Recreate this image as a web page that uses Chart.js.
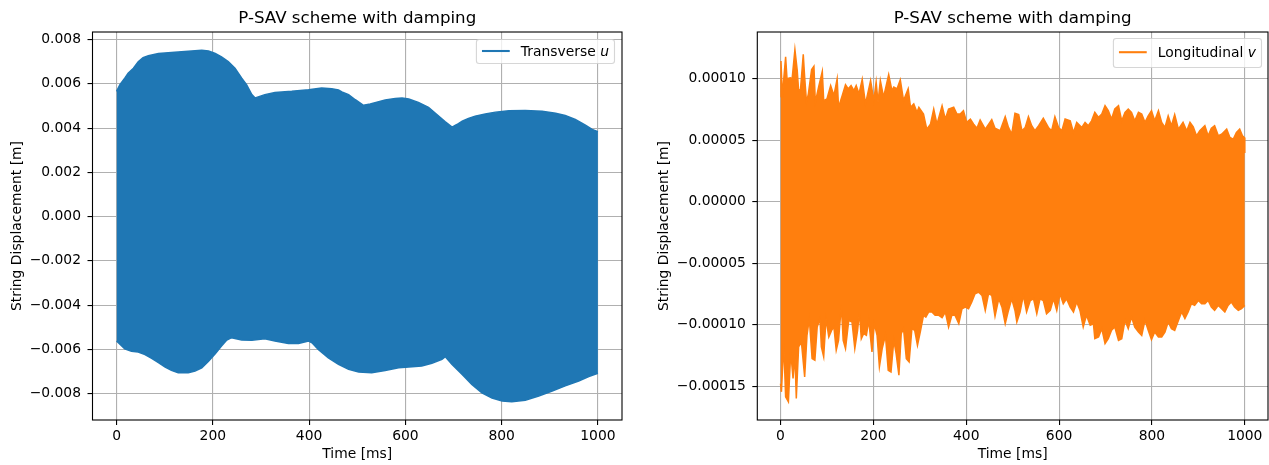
<!DOCTYPE html>
<html><head><meta charset="utf-8">
<script src="https://cdn.jsdelivr.net/npm/chart.js@4.4.0/dist/chart.umd.min.js"></script>
<style>
html,body{margin:0;padding:0;background:#fff;}
#wrap{position:relative;width:1269px;height:465px;overflow:hidden;background:#fff;}
canvas{position:absolute;top:0;}
</style></head><body>
<div id="wrap">
<canvas id="cu" width="640" height="465" style="left:0px"></canvas>
<canvas id="cv" width="629" height="465" style="left:640px"></canvas>
</div>
<script>
// ---- data ----
const timeTicks = [0, 200, 400, 600, 800, 1000];
const uTicks = [-0.008, -0.006, -0.004, -0.002, 0, 0.002, 0.004, 0.006, 0.008];
const vTicks = [-0.00015, -0.0001, -0.00005, 0, 0.00005, 0.0001];

// Transverse u: upper and lower envelope of the oscillation (m) vs time (ms)
const uUpperTime = [0,7,17,24,35,45,55,66,87,121,156,177,191,205,218,232,246,260,270,281,288,308,329,364,399,426,447,461,468,482,496,513,527,537,558,579,593,607,627,648,669,683,697,707,718,731,745,766,787,815,849,884,912,932,953,974,988,1000];
const uUpper = [0.00566,0.00596,0.00625,0.00648,0.0067,0.007,0.00718,0.00727,0.00737,0.00742,0.00748,0.00751,0.00748,0.00737,0.00722,0.007,0.0067,0.00625,0.00596,0.00551,0.00536,0.00551,0.00561,0.00566,0.00573,0.00581,0.00578,0.00572,0.00563,0.00551,0.00528,0.00503,0.00509,0.00515,0.00527,0.00534,0.00536,0.00531,0.00516,0.00494,0.00454,0.00428,0.00404,0.00416,0.00431,0.00443,0.00454,0.00464,0.00472,0.00478,0.00479,0.00476,0.00467,0.00457,0.00439,0.00413,0.00394,0.00384];
const uLowerTime = [0,7,17,31,45,59,73,87,101,114,128,149,163,177,191,205,218,229,239,260,281,308,329,357,378,399,406,419,440,461,482,503,530,558,586,607,634,655,676,683,697,718,738,759,780,801,821,849,877,905,932,960,981,1000];
const uLower = [-0.00562,-0.00577,-0.00597,-0.00608,-0.00612,-0.00623,-0.00641,-0.0066,-0.0068,-0.00695,-0.00705,-0.00705,-0.00698,-0.00683,-0.00653,-0.0062,-0.00585,-0.00558,-0.00547,-0.00558,-0.00559,-0.00552,-0.00562,-0.00573,-0.00573,-0.00562,-0.0057,-0.006,-0.00638,-0.00668,-0.0069,-0.00702,-0.00705,-0.00695,-0.00683,-0.0068,-0.00675,-0.00663,-0.00645,-0.00633,-0.00668,-0.00713,-0.00758,-0.00796,-0.0082,-0.00833,-0.00836,-0.0083,-0.00811,-0.00788,-0.00765,-0.00743,-0.00723,-0.00708];

// Longitudinal v: upper and lower envelope (m) vs time (ms)
const vUpperTime = [0,1,4,7,11,14,21,25,31,36,39,43,49,52,56,60,67,72,75,82,90,93,100,108,115,122,125,133,140,146,152,158,163,169,176,183,194,201,206,210,215,222,233,240,244,251,258,265,275,280,287,294,298,308,315,323,330,337,348,355,362,373,380,387,394,401,409,416,423,430,441,455,462,473,484,491,498,505,513,520,527,534,541,548,556,566,577,584,591,599,606,613,624,631,638,649,656,663,670,677,685,692,699,706,713,720,728,735,742,749,756,763,771,778,785,792,799,806,814,821,828,835,842,849,857,867,875,882,889,896,903,914,921,928,935,943,950,961,968,975,982,989,995,999,1000];
const vUpper = [8.54e-5,11.45e-5,8.5e-5,10e-5,11.78e-5,10e-5,10.08e-5,10e-5,12.38e-5,10.68e-5,9.04e-5,9.1e-5,11.99e-5,10.14e-5,8.09e-5,8.77e-5,10.74e-5,11.01e-5,8.09e-5,9.32e-5,10.6e-5,8.22e-5,8.36e-5,9.45e-5,8.63e-5,10e-5,7.68e-5,8.63e-5,9.51e-5,9.18e-5,9.45e-5,9.04e-5,9.45e-5,8.77e-5,9.95e-5,7.95e-5,9.86e-5,8.22e-5,9.73e-5,8.09e-5,9.86e-5,8.5e-5,10.33e-5,9.04e-5,9.32e-5,9.18e-5,9.92e-5,8.22e-5,9.18e-5,7.68e-5,7.95e-5,7.27e-5,7.68e-5,7.13e-5,5.9e-5,6.31e-5,7.54e-5,6.31e-5,7.81e-5,6.72e-5,7.54e-5,7.68e-5,7.13e-5,7.13e-5,7.4e-5,6.45e-5,6.72e-5,6.31e-5,5.98e-5,6.64e-5,5.9e-5,6.67e-5,5.98e-5,5.77e-5,6.91e-5,6.04e-5,5.49e-5,7.19e-5,7.08e-5,5.77e-5,6.04e-5,6.91e-5,6.18e-5,5.77e-5,6.18e-5,6.78e-5,6.04e-5,5.77e-5,6.91e-5,6.04e-5,5.77e-5,6.72e-5,6.58e-5,5.63e-5,6.45e-5,6.04e-5,6.45e-5,6.18e-5,6.58e-5,7.27e-5,6.86e-5,7.13e-5,7.81e-5,7.4e-5,6.72e-5,7.54e-5,7.81e-5,6.58e-5,7.27e-5,7.54e-5,7.27e-5,6.58e-5,7.27e-5,7.13e-5,6.45e-5,6.99e-5,7.4e-5,6.58e-5,7.4e-5,6.45e-5,6.04e-5,6.99e-5,6.18e-5,7.08e-5,5.9e-5,6.45e-5,5.77e-5,6.45e-5,6.09e-5,5.36e-5,5.77e-5,6.18e-5,5.36e-5,5.98e-5,6.18e-5,5.36e-5,5.49e-5,5.9e-5,5.22e-5,5.08e-5,5.63e-5,5.9e-5,5.36e-5,5.22e-5,3.96e-5];
const vLowerTime = [0,2,7,11,17,22,27,31,34,39,45,52,57,62,68,74,79,85,88,93,98,104,110,115,120,125,131,135,140,147,154,160,166,170,174,179,185,190,197,202,208,213,219,226,232,238,244,249,255,260,265,271,277,283,289,295,301,308,313,319,326,333,341,348,355,362,369,376,384,391,398,405,412,419,427,434,441,448,455,462,470,477,484,491,498,505,509,516,523,530,538,545,552,559,566,573,581,588,595,602,609,616,624,631,638,645,652,659,667,674,677,685,692,699,706,713,720,728,735,742,749,756,763,771,778,785,792,799,806,814,821,828,835,842,849,857,864,871,878,885,892,900,907,914,921,928,935,943,950,957,964,971,978,986,993,1000];
const vLower = [-14.79e-5,-15.46e-5,-11.54e-5,-15.87e-5,-16.27e-5,-12.22e-5,-14.38e-5,-12.49e-5,-16.0e-5,-11.81e-5,-11.41e-5,-14.24e-5,-10.87e-5,-9.51e-5,-12.76e-5,-12.89e-5,-10.19e-5,-9.51e-5,-11.81e-5,-12.62e-5,-9.51e-5,-11.0e-5,-10.46e-5,-10.19e-5,-12.08e-5,-11.27e-5,-8.43e-5,-11.27e-5,-11.95e-5,-9.65e-5,-9.78e-5,-11.95e-5,-10.46e-5,-8.97e-5,-11.14e-5,-10.73e-5,-10.87e-5,-9.65e-5,-12.22e-5,-9.92e-5,-10.87e-5,-13.43e-5,-11.95e-5,-10.87e-5,-13.7e-5,-13.84e-5,-11.27e-5,-12.35e-5,-14.11e-5,-10.73e-5,-10.32e-5,-12.76e-5,-13.03e-5,-10.32e-5,-10.46e-5,-11.68e-5,-10.6e-5,-9.24e-5,-9.38e-5,-8.97e-5,-8.97e-5,-9.24e-5,-9.24e-5,-9.43e-5,-8.97e-5,-10.19e-5,-9.24e-5,-9.24e-5,-9.92e-5,-8.7e-5,-8.57e-5,-8.7e-5,-8.16e-5,-7.49e-5,-7.35e-5,-7.62e-5,-8.84e-5,-7.49e-5,-7.62e-5,-9.32e-5,-7.89e-5,-8.57e-5,-9.92e-5,-8.84e-5,-7.89e-5,-8.84e-5,-9.78e-5,-8.97e-5,-7.62e-5,-8.97e-5,-8.03e-5,-7.89e-5,-9.11e-5,-7.89e-5,-8.03e-5,-9.11e-5,-8.84e-5,-7.89e-5,-8.84e-5,-7.49e-5,-8.3e-5,-7.89e-5,-8.57e-5,-8.97e-5,-8.16e-5,-8.84e-5,-10.19e-5,-9.24e-5,-10.05e-5,-9.92e-5,-11.14e-5,-11.0e-5,-10.32e-5,-11.54e-5,-11.14e-5,-10.46e-5,-10.19e-5,-11.27e-5,-11.14e-5,-9.65e-5,-10.32e-5,-9.38e-5,-10.19e-5,-10.6e-5,-10.87e-5,-9.65e-5,-10.46e-5,-11.22e-5,-10.6e-5,-11.0e-5,-11.0e-5,-10.6e-5,-9.78e-5,-10.32e-5,-10.46e-5,-9.65e-5,-8.97e-5,-9.51e-5,-8.97e-5,-8.3e-5,-8.43e-5,-8.03e-5,-8.3e-5,-8.3e-5,-8.03e-5,-8.57e-5,-8.84e-5,-8.43e-5,-8.7e-5,-8.97e-5,-8.43e-5,-8.16e-5,-8.57e-5,-8.84e-5,-8.7e-5,-8.43e-5];

// ---- rendering ----
const FONT = 'DejaVu Sans';
const FS = 13.89;
Chart.defaults.font.family = FONT;

function pts(ts, vs) { return ts.map((t, i) => ({x: t, y: vs[i]})); }
function fmt(v, d) { const s = Math.abs(v).toFixed(d); return (v < -1e-12 ? '\u2212' : '') + s; }

const framePlugin = {
  id: 'frame',
  afterDraw(chart, args, o) {
    const {ctx, chartArea: a} = chart;
    ctx.save();
    ctx.strokeStyle = '#000';
    ctx.lineWidth = 1.1;
    ctx.strokeRect(a.left, a.top, a.right - a.left, a.bottom - a.top);
    // legend
    ctx.font = `${FS}px "${FONT}"`;
    const w1 = ctx.measureText(o.label).width;
    ctx.font = `italic ${FS}px "${FONT}"`;
    const w2 = ctx.measureText(o.symbol).width;
    const pad = 0.4 * FS, handle = 2 * FS, tpad = 0.8 * FS;
    const bw = pad + handle + tpad + w1 + w2 + pad;
    const bx = a.right - o.inset - bw, by = a.top + o.inset, bh = o.height;
    const r = 0.2 * FS;
    ctx.beginPath();
    ctx.roundRect(bx, by, bw, bh, r);
    ctx.fillStyle = 'rgba(255,255,255,0.8)';
    ctx.fill();
    ctx.strokeStyle = 'rgba(204,204,204,0.8)';
    ctx.lineWidth = 1.1;
    ctx.stroke();
    ctx.beginPath();
    ctx.moveTo(bx + pad, by + o.lineY);
    ctx.lineTo(bx + pad + handle, by + o.lineY);
    ctx.strokeStyle = o.color;
    ctx.lineWidth = 2.08;
    ctx.stroke();
    ctx.fillStyle = '#000';
    ctx.textBaseline = 'alphabetic';
    ctx.textAlign = 'left';
    ctx.font = `${FS}px "${FONT}"`;
    ctx.fillText(o.label, bx + pad + handle + tpad, by + o.baseY);
    ctx.font = `italic ${FS}px "${FONT}"`;
    ctx.fillText(o.symbol, bx + pad + handle + tpad + w1, by + o.baseY);
    ctx.restore();
  }
};

function makeChart(id, c) {
  const tickFont = {family: FONT, size: FS};
  return new Chart(document.getElementById(id), {
    type: 'line',
    data: {
      datasets: [
        {data: pts(c.lowT, c.low), borderColor: c.color, borderWidth: 1.5, pointRadius: 0, pointHitRadius: 0, fill: false, tension: 0},
        {data: pts(c.upT, c.up), borderColor: c.color, backgroundColor: c.color, borderWidth: 1.5, pointRadius: 0, pointHitRadius: 0, fill: '-1', tension: 0}
      ]
    },
    options: {
      responsive: false, animation: false, devicePixelRatio: 1,
      events: [],
      layout: {padding: {left: 0, right: c.padRight, top: 0, bottom: 0}},
      plugins: {
        legend: {display: false},
        tooltip: {enabled: false},
        title: {display: true, text: 'P-SAV scheme with damping', fullSize: false, color: '#000',
          font: {family: FONT, size: 16.67, weight: 'normal', lineHeight: 1.2}, padding: {top: 9, bottom: 3}},
        frame: c.legend
      },
      scales: {
        x: {
          type: 'linear', min: -50, max: 1050,
          afterBuildTicks: s => { s.ticks = timeTicks.map(v => ({value: v})); },
          afterFit: s => { s.height = 45; },
          grid: {color: '#b0b0b0', lineWidth: 1.11, tickLength: 5, tickColor: '#000', tickWidth: 1.1},
          border: {display: false},
          ticks: {font: tickFont, color: '#000', padding: 3, maxRotation: 0, autoSkip: false, callback: v => String(v)},
          title: {display: true, text: 'Time [ms]', color: '#000', font: tickFont, padding: {top: 0, bottom: 2.7}}
        },
        y: {
          type: 'linear', min: c.ymin, max: c.ymax,
          afterBuildTicks: s => { s.ticks = c.yTicks.map(v => ({value: v})); },
          afterFit: s => { s.width = c.yWidth; },
          grid: {color: '#b0b0b0', lineWidth: 1.11, tickLength: 5, tickColor: '#000', tickWidth: 1.1},
          border: {display: false},
          ticks: {font: tickFont, color: '#000', padding: 6.5, autoSkip: false, callback: v => fmt(v, c.dec)},
          title: {display: true, text: 'String Displacement [m]', color: '#000', font: tickFont, padding: {top: c.yTitlePad, bottom: 0}}
        }
      }
    },
    plugins: [framePlugin]
  });
}

makeChart('cu', {
  color: '#1f77b4', upT: uUpperTime, up: uUpper, lowT: uLowerTime, low: uLower,
  ymin: -0.00919, ymax: 0.00834, yTicks: uTicks, dec: 3, yWidth: 92.5, padRight: 18, yTitlePad: 8.7,
  legend: {label: 'Transverse ', symbol: 'u', color: '#1f77b4', inset: 7.5, height: 24, lineY: 11.5, baseY: 16.5}
});
makeChart('cv', {
  color: '#ff7f0e', upT: vUpperTime, up: vUpper, lowT: vLowerTime, low: vLower,
  ymin: -0.0001775, ymax: 0.000138, yTicks: vTicks, dec: 5, yWidth: 117.3, padRight: 1, yTitlePad: 15.7,
  legend: {label: 'Longitudinal ', symbol: 'v', color: '#ff7f0e', inset: 6.5, height: 29, lineY: 13.7, baseY: 18.7}
});
</script>
</body></html>
